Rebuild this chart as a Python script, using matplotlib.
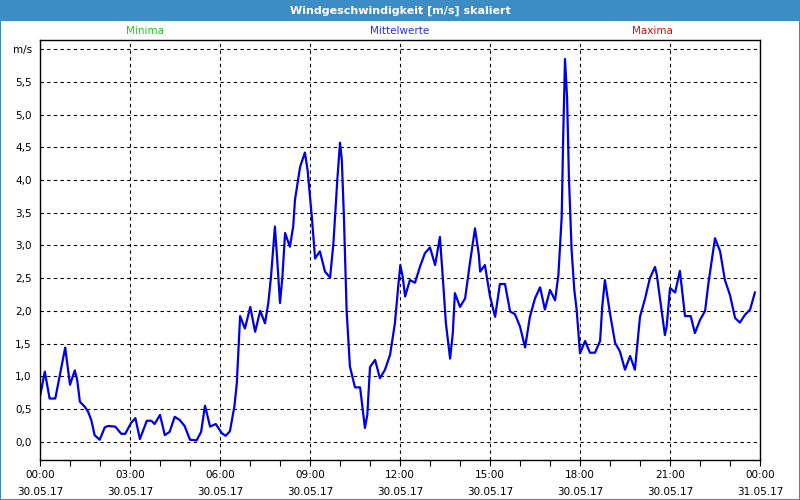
import numpy as np
import matplotlib
matplotlib.use("Agg")
import matplotlib.pyplot as plt
from matplotlib.patches import Rectangle

# Stunden seit 30.05.17 00:00 und Windgeschwindigkeit (Mittelwerte) in m/s
hours = [0.0, 0.16, 0.32, 0.51, 0.84, 1.0, 1.16, 1.24, 1.33, 1.49, 1.6, 1.71, 1.82,
         1.99, 2.16, 2.27, 2.51, 2.71, 2.84, 3.04, 3.18, 3.33, 3.56, 3.71, 3.82,
         4.0, 4.16, 4.32, 4.49, 4.66, 4.82, 5.0, 5.22, 5.37, 5.5, 5.67, 5.86,
         6.06, 6.19, 6.33, 6.48, 6.56, 6.67, 6.83, 7.01, 7.17, 7.34, 7.5, 7.61,
         7.7, 7.83, 7.9, 8.0, 8.08, 8.17, 8.33, 8.44, 8.5, 8.67, 8.83, 8.92,
         9.06, 9.17, 9.33, 9.5, 9.67, 9.78, 9.91, 10.0, 10.06, 10.13, 10.22,
         10.33, 10.5, 10.67, 10.83, 10.91, 11.0, 11.17, 11.33, 11.5, 11.67,
         11.83, 11.94, 12.01, 12.09, 12.17, 12.33, 12.5, 12.67, 12.83, 13.0,
         13.17, 13.33, 13.44, 13.53, 13.67, 13.76, 13.83, 14.0, 14.17, 14.33,
         14.5, 14.63, 14.67, 14.83, 15.0, 15.17, 15.33, 15.5, 15.67, 15.83,
         16.0, 16.17, 16.33, 16.5, 16.67, 16.83, 17.0, 17.17, 17.28, 17.39,
         17.44, 17.5, 17.57, 17.63, 17.72, 17.81, 17.89, 18.0, 18.17, 18.33,
         18.5, 18.67, 18.74, 18.83, 19.0, 19.17, 19.33, 19.5, 19.67, 19.83,
         20.0, 20.17, 20.33, 20.5, 20.56, 20.72, 20.83, 20.89, 21.0, 21.17,
         21.33, 21.5, 21.69, 21.83, 22.0, 22.17, 22.28, 22.5, 22.67, 22.83,
         23.0, 23.17, 23.33, 23.5, 23.67, 23.83]
wind = [0.69, 1.07, 0.66, 0.66, 1.44, 0.87, 1.09, 0.94, 0.61, 0.535, 0.46, 0.33, 0.10,
        0.03, 0.22, 0.24, 0.23, 0.12, 0.12, 0.29, 0.36, 0.04, 0.32, 0.32, 0.27,
        0.41, 0.10, 0.15, 0.38, 0.33, 0.24, 0.03, 0.02, 0.15, 0.55, 0.23, 0.27,
        0.13, 0.09, 0.16, 0.54, 0.89, 1.92, 1.73, 2.06, 1.68, 2.0, 1.81, 2.12,
        2.52, 3.29, 2.83, 2.12, 2.52, 3.19, 2.98, 3.29, 3.70, 4.2, 4.42, 4.15,
        3.44, 2.80, 2.91, 2.60, 2.51, 3.03, 4.0, 4.57, 4.31, 3.44, 2.01,
        1.15, 0.83, 0.83, 0.21, 0.41, 1.14, 1.25, 0.97, 1.10, 1.33,
        1.81, 2.37, 2.70, 2.52, 2.22, 2.47, 2.43, 2.68, 2.88, 2.97,
        2.70, 3.13, 2.42, 1.81, 1.27, 1.66, 2.27, 2.06, 2.19, 2.73,
        3.26, 2.85, 2.60, 2.70, 2.22, 1.91, 2.41, 2.41, 1.99, 1.95,
        1.76, 1.44, 1.91, 2.19, 2.36, 2.02, 2.32, 2.16, 2.55, 3.44,
        4.66, 5.85, 5.25, 4.05, 2.93, 2.32, 2.01, 1.35, 1.54, 1.36,
        1.36, 1.54, 2.06, 2.47, 1.96, 1.51, 1.38, 1.10, 1.31, 1.10,
        1.91, 2.19, 2.50, 2.67, 2.55, 2.01, 1.63, 1.76, 2.35, 2.28,
        2.61, 1.92, 1.92, 1.66, 1.86, 2.0, 2.42, 3.11, 2.91, 2.47,
        2.24, 1.89, 1.82, 1.94, 2.02, 2.28]

x_ticks = [0, 3, 6, 9, 12, 15, 18, 21, 24]
x_labels = ["00:00\n30.05.17", "03:00\n30.05.17", "06:00\n30.05.17",
            "09:00\n30.05.17", "12:00\n30.05.17", "15:00\n30.05.17",
            "18:00\n30.05.17", "21:00\n30.05.17", "00:00\n31.05.17"]
y_ticks = [0.0, 0.5, 1.0, 1.5, 2.0, 2.5, 3.0, 3.5, 4.0, 4.5, 5.0, 5.5, 6.0]
y_labels = [f"{v:.1f}".replace(".", ",") for v in y_ticks[:-1]] + ["m/s"]

plt.rcParams["font.family"] = ["DejaVu Sans"]
fs = 7.5

fig = plt.figure(figsize=(8, 5), dpi=100)
fig.patch.set_facecolor("white")

# Titelleiste und Fensterrahmen
fig.add_artist(Rectangle((0, 0.958), 1, 0.042, transform=fig.transFigure,
                         facecolor="#3c8dc6", edgecolor="none"))
fig.add_artist(Rectangle((0.0006, 0.001), 0.9988, 0.96, transform=fig.transFigure,
                         facecolor="none", edgecolor="#3c8dc6", linewidth=1.5))
fig.text(0.5, 0.979, "Windgeschwindigkeit [m/s] skaliert", color="white",
         fontsize=8, fontweight="bold", ha="center", va="center")

ax = fig.add_axes([0.05, 0.08, 0.90, 0.84])
ax.plot(hours, wind, color="#0000e6", linewidth=1.6)

ax.set_xlim(0, 24)
ax.set_ylim(-0.28, 6.14)
ax.set_xticks(x_ticks)
ax.set_xticklabels(x_labels, fontsize=fs, linespacing=1.95)
ax.set_xticks(np.arange(0, 25, 1), minor=True)
ax.set_yticks(y_ticks)
ax.set_yticklabels(y_labels, fontsize=fs)

ax.tick_params(axis="x", which="both", direction="out", length=4, width=0.8, pad=3)
ax.tick_params(axis="y", length=0, pad=6)

ax.grid(True, color="black", linestyle=(0, (3, 3)), linewidth=0.8)
for s in ax.spines.values():
    s.set_linewidth(1.0)
    s.set_color("black")

# Serienbeschriftungen
fig.text(0.181, 0.938, "Minima", color="#22c822", fontsize=fs, ha="center", va="center")
fig.text(0.5, 0.938, "Mittelwerte", color="#2b2bff", fontsize=fs, ha="center", va="center")
fig.text(0.815, 0.938, "Maxima", color="#cc1010", fontsize=fs, ha="center", va="center")

fig.savefig("out.png", dpi=100)
